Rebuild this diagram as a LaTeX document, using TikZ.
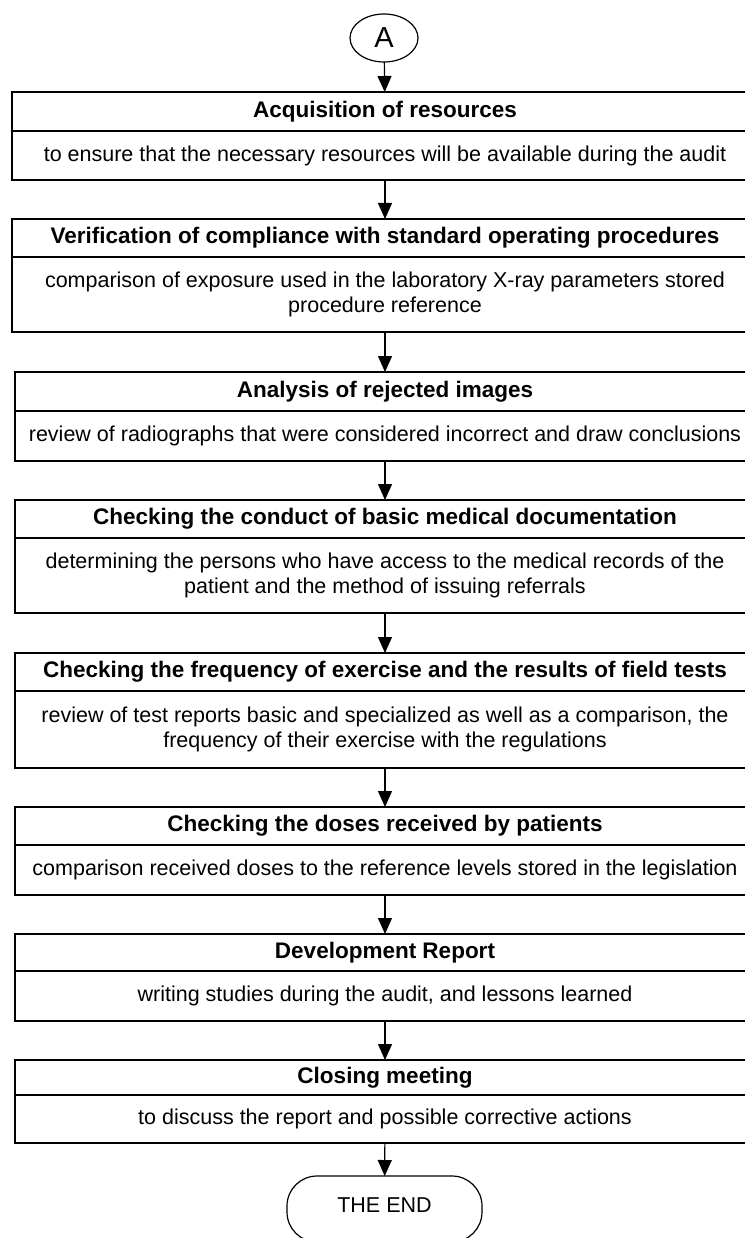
\documentclass[tikz,border=0pt]{standalone}
\usepackage{fontspec}
\setmainfont{Liberation Sans}
\usetikzlibrary{arrows.meta,shapes.geometric}
\begin{document}
\begin{tikzpicture}[x=1pt,y=-1pt,
  every node/.style={inner sep=0pt, outer sep=0pt},
  row/.style={draw, line width=1.2pt, rectangle, minimum width=#1, font=\fontsize{21.5}{25}\selectfont, align=center},
  ttl/.style={row=#1, font=\fontsize{22.5}{25}\selectfont\bfseries},
  conn/.style={line width=1.2pt, -{Triangle[width=14pt,length=16pt]}}]
\useasboundingbox (0,0) rectangle (744,1238);
% start
\node[draw, ellipse, line width=1.2pt, minimum width=68pt, minimum height=48pt, font=\fontsize{29}{30}\selectfont] (A) at (384,38) {A};
% box 1
\node[ttl=746pt, minimum height=39pt] (t1) at (385,111.5) {Acquisition of resources};
\node[row=746pt, minimum height=49pt, anchor=north] (s1) at (t1.south) {to ensure that the necessary resources will be available during the audit};
% box 2
\node[ttl=746pt, minimum height=38pt] (t2) at (385,238) {Verification of compliance with standard operating procedures};
\node[row=746pt, minimum height=75pt, anchor=north] (s2) at (t2.south) {comparison of exposure used in the laboratory X-ray parameters stored\\procedure reference};
% box 3
\node[ttl=740pt, minimum height=39pt] (t3) at (385,391.5) {Analysis of rejected images};
\node[row=740pt, minimum height=50pt, anchor=north] (s3) at (t3.south) {review of radiographs that were considered incorrect and draw conclusions};
% box 4
\node[ttl=740pt, minimum height=38pt] (t4) at (385,519) {Checking the conduct of basic medical documentation};
\node[row=740pt, minimum height=75pt, anchor=north] (s4) at (t4.south) {determining the persons who have access to the medical records of the\\patient and the method of issuing referrals};
% box 5
\node[ttl=740pt, minimum height=38pt] (t5) at (385,672) {Checking the frequency of exercise and the results of field tests};
\node[row=740pt, minimum height=77pt, anchor=north] (s5) at (t5.south) {review of test reports basic and specialized as well as a comparison, the\\frequency of their exercise with the regulations};
% box 6
\node[ttl=740pt, minimum height=38pt] (t6) at (385,826) {Checking the doses received by patients};
\node[row=740pt, minimum height=50pt, anchor=north] (s6) at (t6.south) {comparison received doses to the reference levels stored in the legislation};
% box 7
\node[ttl=740pt, minimum height=37pt] (t7) at (385,952.5) {Development Report};
\node[row=740pt, minimum height=50pt, anchor=north] (s7) at (t7.south) {writing studies during the audit, and lessons learned};
% box 8
\node[ttl=740pt, minimum height=35pt] (t8) at (385,1077.5) {Closing meeting};
\node[row=740pt, minimum height=48pt, anchor=north] (s8) at (t8.south) {to discuss the report and possible corrective actions};
% end
\node[draw, line width=1.2pt, rectangle, rounded corners=30pt, minimum width=195pt, minimum height=66pt] (E) at (384.5,1209) {};
\node[font=\fontsize{21.5}{25}\selectfont] (Etxt) at (384.5,1205) {THE END};
% connectors
\draw[conn] (A) -- (t1);
\draw[conn] (s1) -- (t2);
\draw[conn] (s2) -- (t3);
\draw[conn] (s3) -- (t4);
\draw[conn] (s4) -- (t5);
\draw[conn] (s5) -- (t6);
\draw[conn] (s6) -- (t7);
\draw[conn] (s7) -- (t8);
\draw[conn] (s8) -- (E);
\end{tikzpicture}
\end{document}
